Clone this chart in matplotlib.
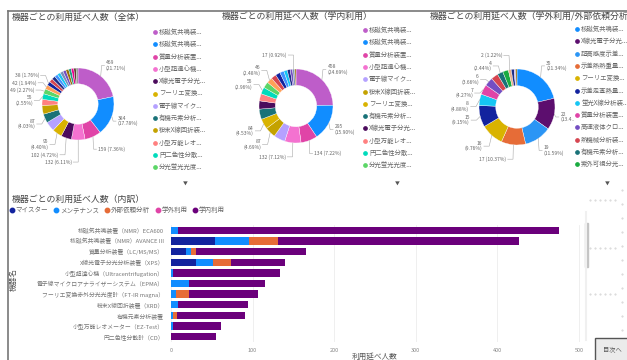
import numpy as np
import matplotlib
matplotlib.use('Agg')
import matplotlib.pyplot as plt
from matplotlib.lines import Line2D
from matplotlib.patches import Rectangle

plt.rcParams['font.family'] = ['Noto Sans CJK JP', 'DejaVu Sans']

W, H = 627, 360

# --- donut data -------------------------------------------------------------
pie_titles = ['機器ごとの利用延べ人数（全体）',
              '機器ごとの利用延べ人数（学内利用）',
              '機器ごとの利用延べ人数（学外利用/外部依頼分析）']

all_names = ['核磁気共鳴装置（NMR）ECA600', '核磁気共鳴装置（NMR）AVANCE III',
             '質量分析装置（LC/MS/MS）', '小型超遠心機（Ultracentrifugation）',
             'X線光電子分光分析装置（XPS）', 'フーリエ変換赤外分光光度計（FT-IR magna）',
             '電子線マイクロアナライザーシステム（EPMA）', '有機元素分析装置',
             '粉末X線回折装置（XRD）', '小型万能レオメーター（EZ-Test）',
             '円二色性分散計（CD）', '分光蛍光光度計']
all_values = [469, 384, 159, 132, 102, 95, 93, 87, 86, 58, 55, 49, 42, 38,
              36, 34, 32, 31, 30, 29, 28, 26, 24, 22, 19]
all_colors = ['#BE5DC9', '#118DFF', '#E044A7', '#F472D0', '#4B0B5C', '#D9B300',
              '#B5A1FF', '#197278', '#C4A200', '#FF8080', '#00DBBC', '#5BD667',
              '#FFA058', '#12239E', '#D64550', '#1F2D86', '#4092FF', '#15C6F4',
              '#7A8EB8', '#744EC2', '#99700A', '#1F9A85', '#EC008C', '#5C4033',
              '#8C8C8C']
all_shown = [0, 1, 2, 3, 4, 5, 7, 10, 11, 12, 13]

in_names = ['核磁気共鳴装置（NMR）ECA600', '核磁気共鳴装置（NMR）AVANCE III',
            '質量分析装置（LC/MS/MS）', '小型超遠心機（Ultracentrifugation）',
            '電子線マイクロアナライザーシステム（EPMA）', '粉末X線回折装置（XRD）',
            'フーリエ変換赤外分光光度計（FT-IR magna）', '有機元素分析装置',
            'X線光電子分光分析装置（XPS）', '小型万能レオメーター（EZ-Test）',
            '円二色性分散計（CD）', '分光蛍光光度計']
in_values = [458, 295, 134, 132, 93, 87, 84, 83, 67, 58, 55, 50, 46, 42, 38,
             34, 28, 24, 20, 17, 10]
in_colors = ['#BE5DC9', '#118DFF', '#E044A7', '#F472D0', '#B5A1FF', '#C4A200',
             '#D9B300', '#197278', '#4B0B5C', '#FF8080', '#00DBBC', '#5BD667',
             '#FFA058', '#D64550', '#12239E', '#4092FF', '#15C6F4', '#1F2D86',
             '#744EC2', '#7A8EB8', '#99700A']
in_shown = [0, 1, 2, 3, 5, 6, 10, 12, 19]

ext_names = ['核磁気共鳴装置（NMR）AVANCE III', 'X線光電子分光分析装置（XPS）',
             '超高感度示差走査熱量計', '示差熱熱重量同時測定装置',
             'フーリエ変換赤外分光光度計（FT-IR magna）', '示差走査熱量測定装置',
             '蛍光X線分析装置', '質量分析装置（LC/MS/MS）', '高速液体クロマトグラフ',
             '熱機械分析装置', '有機元素分析装置', '紫外可視分光光度計']
ext_values = [35, 22, 19, 17, 16, 15, 8, 7, 6, 5, 4, 4, 2, 2, 1, 1]
ext_colors = ['#118DFF', '#5C0E6E', '#2B95F5', '#E66C37', '#D9B300', '#12239E',
              '#15C6F4', '#E044A7', '#744EC2', '#D64550', '#197278', '#1AAB40',
              '#E8B08C', '#1F2D86', '#B5A1FF', '#99700A']
ext_shown = [0, 1, 2, 3, 4, 5, 6, 7, 8, 10, 12]

# --- stacked bar data -------------------------------------------------------
bar_names = ['核磁気共鳴装置（NMR）ECA600', '核磁気共鳴装置（NMR）AVANCE III',
             '質量分析装置（LC/MS/MS）', 'X線光電子分光分析装置（XPS）',
             '小型超遠心機（Ultracentrifugation）',
             '電子線マイクロアナライザーシステム（EPMA）',
             'フーリエ変換赤外分光光度計（FT-IR magna）', '粉末X線回折装置（XRD）',
             '有機元素分析装置', '小型万能レオメーター（EZ-Test）', '円二色性分散計（CD）']
series_names = ['マイスター', 'メンテナンス', '外部依頼分析', '学外利用', '学内利用']
meister = [0, 54, 18, 31, 0, 0, 0, 0, 0, 0, 0]
maintenance = [8, 42, 6, 20, 2, 22, 6, 8, 3, 3, 0]
outside_request = [0, 35, 7, 22, 0, 0, 16, 0, 4, 0, 0]
outside_use = [0, 0, 0, 0, 0, 0, 0, 0, 0, 0, 0]
inside_use = [467, 295, 134, 67, 131, 93, 85, 86, 84, 58, 55]
series_colors = ['#12239E', '#118DFF', '#E66C37', '#E044A7', '#6B007B']
x_ticks = [0, 100, 200, 300, 400, 500]


def fx(x):
    return x / W


def fy(y):
    return 1 - y / H


def short(name, limit=6.6):
    out, width = '', 0.0
    for ch in name:
        width += 0.55 if ord(ch) < 128 else 1.0
        if width > limit:
            return out + '...'
        out += ch
    return out


def fit(line, room_px, char_px=2.2):
    # Power BI style: cut a data label that runs past the free space
    n = int(room_px // char_px)
    if len(line) <= n:
        return line
    return line[:max(n - 2, 1)] + '..'


fig = plt.figure(figsize=(W / 100, H / 100), dpi=100)
fig.patch.set_facecolor('white')


def donut(cx, cy, r, values, colors, shown, x_min, x_max):
    half = 2.3 * r
    ax = fig.add_axes([fx(cx - half), fy(cy + half), 2 * half / W, 2 * half / H])
    ax.pie(values, colors=colors, startangle=90, counterclock=False, radius=1,
           wedgeprops=dict(width=0.44, edgecolor='white', linewidth=0.25))
    lim = half / r
    ax.set_xlim(-lim, lim)
    ax.set_ylim(-lim, lim)
    ax.axis('off')

    vals = np.asarray(values, float)
    total = vals.sum()
    mids = (np.cumsum(vals) - vals / 2) / total * 2 * np.pi
    line_h = 6.2 / r
    sides = {-1: [], 1: []}
    for i in shown:
        th = mids[i]
        pct = vals[i] / total * 100
        one = 150 <= np.degrees(th) <= 212 or pct < 2.3
        lines = [f'{values[i]} ({pct:.2f}%)'] if one else [f'{values[i]}', f'({pct:.2f}%)']
        side = 1 if np.sin(th) > 0.05 else -1
        sides[side].append([1.38 * np.cos(th), line_h * len(lines), th, lines])
    for side, items in sides.items():
        items.sort(key=lambda t: -t[0])
        for k in range(1, len(items)):
            lim_y = items[k - 1][0] - (items[k - 1][1] + items[k][1]) / 2 - 0.03
            items[k][0] = min(items[k][0], lim_y)
        for y, h, th, lines in items:
            if side > 0:
                ex = 1.04 * np.sin(th)
                tx = ex + 0.12
            else:
                ex = 1.1 * np.sin(th)
                tx = ex - 0.18
            px = cx + tx * r
            room = (x_max - px) if side > 0 else (px - x_min)
            txt = '\n'.join(fit(ln, room) for ln in lines)
            ax.plot([np.sin(th), ex, tx - side * 0.04], [np.cos(th), y, y],
                    color='#A8A8A8', lw=0.4)
            ax.text(tx, y, txt, ha='left' if side > 0 else 'right', va='center',
                    fontsize=3.6, color='#666666', linespacing=1.0)


def side_legend(x, y0, names, colors):
    for k, (nm, c) in enumerate(zip(names, colors)):
        y = y0 + k * 12.3
        fig.add_artist(Line2D([fx(x)], [fy(y)], marker='o', ms=2.4, color=c,
                              transform=fig.transFigure))
        fig.text(fx(x + 4), fy(y), short(nm), fontsize=4.6, color='#666666',
                 va='center', ha='left')


panels = [(12, 78, 104, 36, all_values, all_colors, all_shown, 155, 32, all_names, 185, 10, 150),
          (222, 296, 106, 37, in_values, in_colors, in_shown, 365, 30, in_names, 397, 222, 360),
          (430, 517, 107, 38, ext_values, ext_colors, ext_shown, 577, 29, ext_names, 607, 430, 576)]
for title, p in zip(pie_titles, panels):
    tx, cx, cy, r, vals, cols, shown, lx, ly, names, ax_, xmin, xmax = p
    fig.text(fx(tx), fy(17), title, fontsize=6.4, color='#444444', va='center')
    donut(cx, cy, r, vals, cols, shown, xmin, xmax)
    side_legend(lx, ly, names, cols)
    fig.text(fx(ax_), fy(183), '▼', fontsize=3.5, color='#555555', ha='center', va='center')

# --- stacked horizontal bars ------------------------------------------------
fig.text(fx(12), fy(199), '機器ごとの利用延べ人数（内訳）', fontsize=6.4,
         color='#444444', va='center')

ax = fig.add_axes([fx(171), fy(342), (583 - 171) / W, (342 - 225) / H])
ypos = np.arange(len(bar_names))
left = np.zeros(len(bar_names))
for vals, col in zip([meister, maintenance, outside_request, outside_use, inside_use],
                     series_colors):
    ax.barh(ypos, vals, left=left, height=0.7, color=col, zorder=3)
    left += np.asarray(vals, float)
ax.set_ylim(len(bar_names) - 0.5, -0.5)
ax.set_xlim(0, 505)
ax.set_xticks(x_ticks)
ax.set_yticks(ypos)
ax.set_yticklabels(bar_names, fontsize=4.2, color='#777777')
ax.tick_params(axis='x', labelsize=4, colors='#888888', length=0, pad=4)
ax.tick_params(axis='y', length=0, pad=5)
ax.grid(axis='x', color='#EDEDED', lw=0.6, zorder=0)
for s in ax.spines.values():
    s.set_visible(False)

handles = [Line2D([], [], marker='o', ls='none', ms=3.2, color=c) for c in series_colors]
fig.legend(handles, series_names, loc='upper left', bbox_to_anchor=(fx(9), fy(206)),
           ncol=5, frameon=False, fontsize=4.7, handletextpad=0.1, columnspacing=0.8,
           handlelength=0.9, borderaxespad=0, borderpad=0, labelcolor='#666666')

fig.text(fx(375), fy(357), '利用延べ人数', fontsize=5.5, color='#555555',
         ha='center', va='center')
fig.text(fx(14), fy(280), '機器名', fontsize=5.5, color='#555555', rotation=90,
         ha='center', va='center')

# scroll bar
fig.add_artist(Line2D([fx(586), fx(586)], [fy(212), fy(340)], color='#F0F0F0',
                      lw=1.5, transform=fig.transFigure))
fig.add_artist(Rectangle((fx(584.5), fy(267)), 3 / W, 44 / H, color='#C4C4C4',
                         transform=fig.transFigure))

# canvas grid dots on the right
for gy in [200, 248, 294]:
    gx = np.arange(590, 616, 5)
    fig.add_artist(Line2D(fx(gx), fy(np.full(gx.shape, gy)), ls='none', marker='.',
                          ms=0.9, color='#CFCFCF', transform=fig.transFigure))
gy = np.arange(190, 340, 14)
fig.add_artist(Line2D(fx(np.full(gy.shape, 622)), fy(gy), ls='none', marker='.',
                      ms=0.9, color='#CFCFCF', transform=fig.transFigure))

# button
fig.add_artist(Rectangle((fx(595), fy(361)), 33 / W, 23 / H, facecolor='#EBEBEB',
                         edgecolor='#555555', lw=1.0, transform=fig.transFigure))
fig.text(fx(612), fy(350), '目次へ', fontsize=4.5, color='#555555', ha='center', va='center')

# page frame
fig.add_artist(Line2D([fx(8), 1], [fy(11), fy(11)], color='#777777', lw=1.2,
                      transform=fig.transFigure))
fig.add_artist(Line2D([fx(8), fx(8)], [fy(11), 0], color='#777777', lw=1.2,
                      transform=fig.transFigure))

fig.savefig('out.png', dpi=100)
